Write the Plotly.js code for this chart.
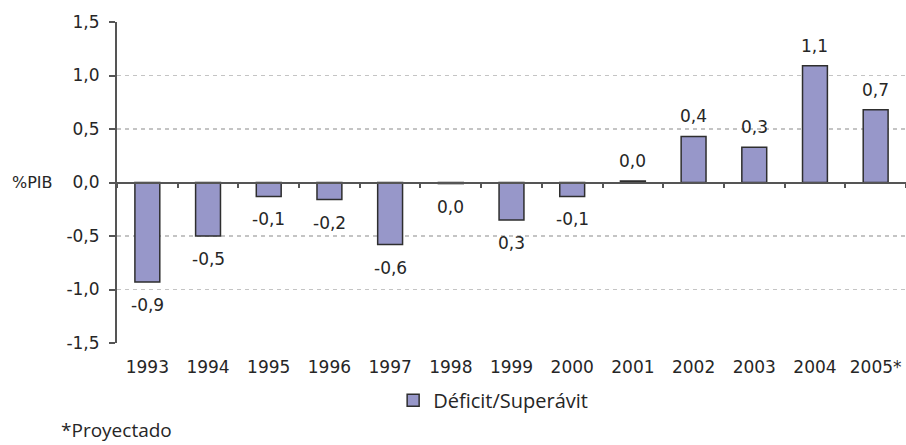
<!DOCTYPE html>
<html>
<head>
<meta charset="utf-8">
<script src="https://cdn.plot.ly/plotly-3.0.1.min.js"></script>
<style>
  html, body { margin: 0; padding: 0; background: #fff; }
  #chart { width: 906px; height: 445px; }
</style>
</head>
<body>
<div id="chart"></div>
<script>
var years = ["1993","1994","1995","1996","1997","1998","1999","2000","2001","2002","2003","2004","2005*"];
var balance = [-0.93, -0.50, -0.13, -0.16, -0.58, -0.01, -0.35, -0.13, 0.015, 0.43, 0.33, 1.09, 0.68];
var valueLabels = ["-0,9","-0,5","-0,1","-0,2","-0,6","0,0","0,3","-0,1","0,0","0,4","0,3","1,1","0,7"];
var yTickVals = [1.5, 1.0, 0.5, 0.0, -0.5, -1.0, -1.5];
var yTickText = ["1,5","1,0","0,5","0,0","-0,5","-1,0","-1,5"];
var seriesName = "Déficit/Superávit";

var numFont = "DejaVu Sans, sans-serif";
var textColor = "#262626";
var axisColor = "#555555";

var bars = {
  type: "bar",
  x: years,
  y: balance,
  name: seriesName,
  width: 0.41,
  marker: { color: "#9797c9", line: { color: "#2e2e2e", width: 1.5 } },
  hoverinfo: "x+y",
  xaxis: "x",
  yaxis: "y"
};

var labelCarrier = {
  type: "scatter",
  mode: "markers",
  x: years,
  y: balance.map(function () { return 0; }),
  marker: { opacity: 0 },
  hoverinfo: "skip",
  showlegend: false,
  xaxis: "x2",
  yaxis: "y"
};

// category axis: annotation x given as the category index
var annotations = balance.map(function (v, i) {
  var neg = v < 0;
  return {
    x: i, y: v, xref: "x", yref: "y",
    text: valueLabels[i], showarrow: false,
    xanchor: "center", yanchor: neg ? "top" : "bottom",
    yshift: neg ? -11 : 8,
    font: { family: numFont, size: 17, color: textColor }
  };
});

annotations.push({
  xref: "paper", yref: "paper", x: -0.136, y: 0.5,
  xanchor: "left", yanchor: "middle",
  text: "%PIB", showarrow: false,
  font: { family: numFont, size: 16, color: textColor }
});
annotations.push({
  xref: "paper", yref: "paper", x: -0.073, y: -0.272,
  xanchor: "left", yanchor: "middle",
  text: "*Proyectado", showarrow: false,
  font: { family: "Open Sans, sans-serif", size: 19, color: textColor }
});

var layout = {
  width: 906, height: 445,
  margin: { l: 117, r: 0, t: 22, b: 102, pad: 0 },
  paper_bgcolor: "#ffffff",
  plot_bgcolor: "#ffffff",
  showlegend: true,
  legend: {
    orientation: "h", x: 0.35, xanchor: "left", y: -0.178, yanchor: "middle",
    font: { family: "Open Sans, sans-serif", size: 20, color: textColor },
    bgcolor: "rgba(0,0,0,0)"
  },
  xaxis: {
    type: "category",
    categoryorder: "array", categoryarray: years,
    range: [-0.5, 12.5],
    anchor: "free", position: 0.5,
    showline: true, linecolor: axisColor, linewidth: 2,
    ticks: "outside", tickson: "boundaries", ticklen: 4, tickwidth: 2, tickcolor: axisColor,
    showticklabels: false, showgrid: false, zeroline: false,
    fixedrange: true
  },
  xaxis2: {
    type: "category",
    categoryorder: "array", categoryarray: years,
    range: [-0.5, 12.5],
    overlaying: "x", side: "bottom", anchor: "y",
    showline: false, ticks: "", showgrid: false, zeroline: false,
    tickfont: { family: numFont, size: 17, color: textColor },
    ticklabelstandoff: 12,
    fixedrange: true
  },
  yaxis: {
    range: [-1.5, 1.5],
    tickvals: yTickVals, ticktext: yTickText,
    showline: true, linecolor: axisColor, linewidth: 2,
    ticks: "outside", ticklen: 6, tickwidth: 2, tickcolor: axisColor,
    ticklabelstandoff: 6,
    tickfont: { family: numFont, size: 17, color: textColor },
    showgrid: true, gridcolor: "#c4c4c4", gridwidth: 1.5, griddash: "4px,4px",
    zeroline: false,
    fixedrange: true
  },
  annotations: annotations
};

Plotly.newPlot("chart", [bars, labelCarrier], layout, { displayModeBar: false, staticPlot: true });
</script>
</body>
</html>
